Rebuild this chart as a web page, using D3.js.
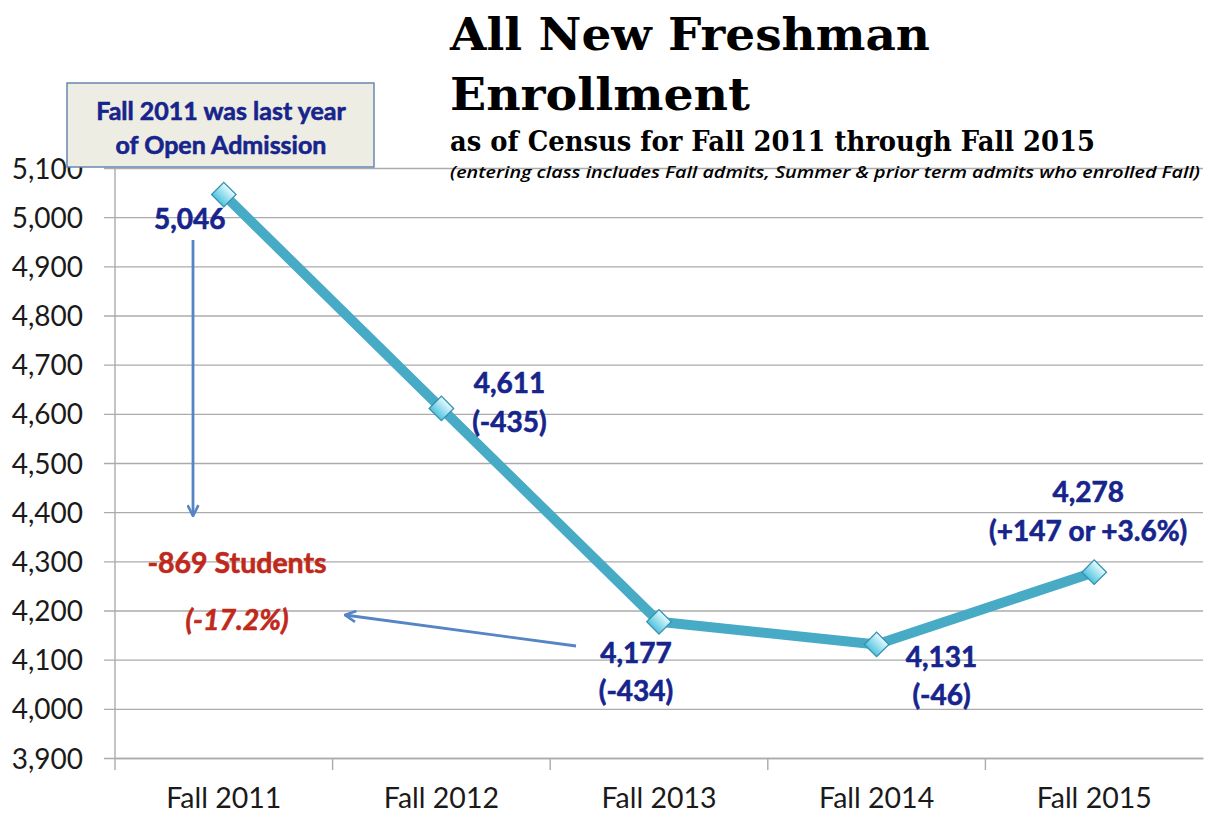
<!DOCTYPE html>
<html>
<head>
<meta charset="utf-8">
<script src="https://cdn.jsdelivr.net/npm/d3@7/dist/d3.min.js"></script>
<style>
  html, body { margin: 0; padding: 0; background: #ffffff; }
  svg { display: block; }
</style>
</head>
<body>
<svg id="chart" width="1207" height="815"></svg>
<script>
// ---- data ----
const categories = ["Fall 2011", "Fall 2012", "Fall 2013", "Fall 2014", "Fall 2015"];
const enrollment = [5046, 4611, 4177, 4131, 4278];
const valueLabels = ["5,046", "4,611", "4,177", "4,131", "4,278"];
const changeLabels = ["", "(-435)", "(-434)", "(-46)", "(+147 or +3.6%)"];
const yTickValues = [3900, 4000, 4100, 4200, 4300, 4400, 4500, 4600, 4700, 4800, 4900, 5000, 5100];
const titleLines = ["All New Freshman", "Enrollment"];
const subtitle = "as of Census for Fall 2011 through Fall 2015";
const note = "(entering class includes Fall admits, Summer & prior term admits who enrolled Fall)";
const boxLines = ["Fall 2011 was last year", "of Open Admission"];
const dropLabel = "-869 Students";
const dropPct = "(-17.2%)";

// ---- layout ----
const svg = d3.select("#chart");
const plot = { left: 115, right: 1203, top: 168, bottom: 758 };

const x = d3.scaleBand().domain(categories).range([plot.left, plot.right]).padding(0);
const y = d3.scaleLinear().domain([3900, 5100]).range([plot.bottom, plot.top]);
const cx = c => x(c) + x.bandwidth() / 2;

const blue = "#16248c";
const red = "#c0281c";
const arrowBlue = "#5585c4";
const sans = "Lato, 'Open Sans', sans-serif";

// gradient for markers
const defs = svg.append("defs");
const grad = defs.append("linearGradient").attr("id", "mk").attr("x1", 0).attr("y1", 0).attr("x2", 0).attr("y2", 1);
grad.append("stop").attr("offset", "0%").attr("stop-color", "#e6fbff");
grad.append("stop").attr("offset", "100%").attr("stop-color", "#4fc3de");

defs.append("marker").attr("id", "arr")
  .attr("viewBox", "0 0 12 12").attr("refX", 11).attr("refY", 6)
  .attr("markerWidth", 13).attr("markerHeight", 13).attr("markerUnits", "userSpaceOnUse")
  .attr("orient", "auto")
  .append("path").attr("d", "M1,1 L11,6 L1,11").attr("fill", "none")
  .attr("stroke", arrowBlue).attr("stroke-width", 2.4);

// gridlines + y axis labels
const yAxis = d3.axisLeft(y).tickValues(yTickValues)
  .tickSize(-(plot.right - plot.left) - 11)
  .tickFormat(d3.format(","));
const gy = svg.append("g").attr("transform", `translate(${plot.left - 11},0)`).call(yAxis);
gy.select(".domain").remove();
gy.selectAll(".tick line").attr("stroke", "#ababab").attr("stroke-width", 1.4);
gy.selectAll(".tick text")
  .attr("x", -21).attr("dy", "0.36em")
  .attr("font-family", sans).attr("font-size", 28).attr("fill", "#1a1a1a");

// left vertical axis line
svg.append("line")
  .attr("x1", plot.left).attr("x2", plot.left)
  .attr("y1", plot.top).attr("y2", plot.bottom + 12)
  .attr("stroke", "#ababab").attr("stroke-width", 1.4);

// x axis with boundary ticks
const xAxis = d3.axisBottom(x).tickSize(0).tickPadding(0);
const gx = svg.append("g").attr("transform", `translate(0,${plot.bottom})`).call(xAxis);
gx.select(".domain").attr("stroke", "#ababab").attr("stroke-width", 1.4);
gx.selectAll(".tick text")
  .attr("y", 50).attr("dy", 0)
  .attr("font-family", sans).attr("font-size", 28.5).attr("fill", "#1a1a1a");
gx.selectAll(".bound").data(categories.slice(1)).enter().append("line")
  .attr("x1", d => x(d)).attr("x2", d => x(d))
  .attr("y1", 0).attr("y2", 12)
  .attr("stroke", "#ababab").attr("stroke-width", 1.4);

// series line
const pts = categories.map((c, i) => ({ c, v: enrollment[i], i }));
const line = d3.line().x(d => cx(d.c)).y(d => y(d.v));
svg.append("path").datum(pts)
  .attr("d", line).attr("fill", "none")
  .attr("stroke", "#47abc6").attr("stroke-width", 10)
  .attr("stroke-linejoin", "round");

// markers (diamonds)
const sym = d3.symbol().type(d3.symbolSquare).size(300);
svg.selectAll(".mk").data(pts).enter().append("path")
  .attr("d", sym)
  .attr("transform", d => `translate(${cx(d.c)},${y(d.v)}) rotate(45)`)
  .attr("fill", "url(#mk)").attr("stroke", "#3591ad").attr("stroke-width", 1.3);

// helper for bold labels (slight stroke to mimic heavier face)
function boldText(sel, color) {
  return sel.attr("font-family", sans).attr("font-weight", 700)
    .attr("fill", color).attr("stroke", color).attr("stroke-width", 0.6)
    .attr("paint-order", "stroke");
}

// data labels
const labelOffsets = [
  { dx: -34, dy1: 34, dy2: 0 },
  { dx: 68, dy1: -15, dy2: 24 },
  { dx: -23, dy1: 41, dy2: 79 },
  { dx: 65, dy1: 23, dy2: 61 },
  { dx: -6, dy1: -70, dy2: -31 }
];
pts.forEach((d, i) => {
  const o = labelOffsets[i];
  boldText(svg.append("text")
    .attr("x", cx(d.c) + o.dx).attr("y", y(d.v) + o.dy1)
    .attr("text-anchor", "middle").attr("font-size", 28), blue)
    .text(valueLabels[i]);
  if (changeLabels[i]) {
    boldText(svg.append("text")
      .attr("x", cx(d.c) + o.dx).attr("y", y(d.v) + o.dy2)
      .attr("text-anchor", "middle").attr("font-size", 28), blue)
      .text(changeLabels[i]);
  }
});

// arrows
svg.append("line")
  .attr("x1", 193).attr("y1", 240).attr("x2", 193).attr("y2", 516)
  .attr("stroke", arrowBlue).attr("stroke-width", 2.8).attr("marker-end", "url(#arr)");
svg.append("line")
  .attr("x1", 576).attr("y1", 646).attr("x2", 345).attr("y2", 615)
  .attr("stroke", arrowBlue).attr("stroke-width", 2.8).attr("marker-end", "url(#arr)");

// red annotation
boldText(svg.append("text").attr("x", 237).attr("y", 573).attr("text-anchor", "middle")
  .attr("font-size", 28.5), red).text(dropLabel);
boldText(svg.append("text").attr("x", 237).attr("y", 630).attr("text-anchor", "middle")
  .attr("font-style", "italic").attr("font-size", 28.5), red).text(dropPct);

// note box
svg.append("rect").attr("x", 67).attr("y", 83).attr("width", 307).attr("height", 84)
  .attr("fill", "#eeede4").attr("stroke", "#5f7fae").attr("stroke-width", 1.4);
boxLines.forEach((t, i) => {
  boldText(svg.append("text").attr("x", 221).attr("y", 120 + i * 34).attr("text-anchor", "middle")
    .attr("font-size", 25), blue).text(t);
});

// titles
const serif = "'DejaVu Serif', Georgia, serif";
svg.append("text").attr("x", 450).attr("y", 50)
  .attr("font-family", serif).attr("font-weight", 700).attr("font-size", 44)
  .attr("textLength", 480).attr("lengthAdjust", "spacingAndGlyphs")
  .attr("fill", "#000").text(titleLines[0]);
svg.append("text").attr("x", 450).attr("y", 110)
  .attr("font-family", serif).attr("font-weight", 700).attr("font-size", 44)
  .attr("textLength", 300).attr("lengthAdjust", "spacingAndGlyphs")
  .attr("fill", "#000").text(titleLines[1]);
svg.append("text").attr("x", 450).attr("y", 151)
  .attr("font-family", serif).attr("font-weight", 700).attr("font-size", 27)
  .attr("textLength", 645).attr("lengthAdjust", "spacingAndGlyphs")
  .attr("fill", "#000").text(subtitle);
svg.append("text").attr("x", 450).attr("y", 178)
  .attr("font-family", "'Open Sans', sans-serif").attr("font-weight", 600).attr("font-style", "italic").attr("font-size", 17)
  .attr("textLength", 750).attr("lengthAdjust", "spacingAndGlyphs")
  .attr("fill", "#000").text(note);
</script>
</body>
</html>
